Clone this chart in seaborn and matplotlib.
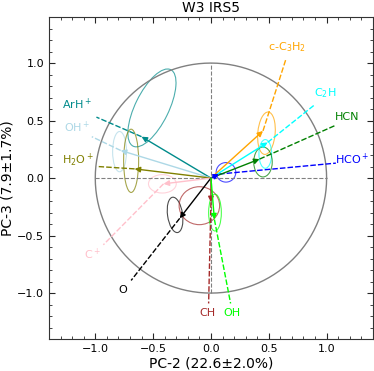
import numpy as np
import pandas as pd
import matplotlib
matplotlib.use("Agg")
import matplotlib.pyplot as plt
import seaborn as sns
from matplotlib.patches import Ellipse
from matplotlib.ticker import MultipleLocator

# loadings (arrow tips) on PC-2 / PC-3
species = ["c-C$_3$H$_2$", "C$_2$H", "HCN", "HCO$^+$", "ArH$^+$", "OH$^+$",
           "H$_2$O$^+$", "C$^+$", "O", "CH", "OH"]
colors = ["orange", "cyan", "green", "blue", "darkcyan", "lightblue",
          "olive", "pink", "black", "brown", "lime"]
pc2 = [0.45, 0.49, 0.42, 0.07, -0.60, -0.78, -0.66, -0.41, -0.27, 0.00, 0.03]
pc3 = [0.41, 0.31, 0.165, 0.035, 0.36, 0.24, 0.08, -0.05, -0.35, -0.21, -0.36]

# bootstrap uncertainty ellipses
ell_x = [0.48, 0.47, 0.45, 0.13, -0.51, -0.79, -0.69, -0.42, -0.31, -0.10, 0.035]
ell_y = [0.39, 0.21, 0.14, 0.05, 0.61, 0.23, 0.15, -0.05, -0.32, -0.24, -0.30]
ell_w = [0.15, 0.11, 0.16, 0.17, 0.29, 0.12, 0.13, 0.24, 0.13, 0.35, 0.11]
ell_h = [0.37, 0.25, 0.26, 0.17, 0.74, 0.35, 0.55, 0.16, 0.31, 0.33, 0.32]
ell_ang = [-5, 0, 0, 0, -26, 0, 0, 0, 8, 0, 0]

# label positions and leader-line ends
lead_x = [0.65, 0.90, 1.08, 1.08, -0.99, -1.03, -0.97, -0.93, -0.69, -0.02, 0.17]
lead_y = [1.04, 0.64, 0.46, 0.13, 0.53, 0.36, 0.10, -0.58, -0.89, -1.09, -1.09]
lab_x = [0.66, 0.99, 1.18, 1.22, -1.16, -1.16, -1.15, -1.02, -0.76, -0.03, 0.18]
lab_y = [1.14, 0.74, 0.53, 0.16, 0.64, 0.44, 0.15, -0.66, -0.97, -1.17, -1.17]

sns.set_style("ticks")
plt.rcParams["font.family"] = ["DejaVu Sans"]

fig = plt.figure(figsize=(3.74, 3.71), dpi=100)
ax = fig.add_axes([0.131, 0.086, 0.866, 0.868])

# unit circle
theta = np.linspace(0, 2 * np.pi, 361)
circ = pd.DataFrame({"x": np.cos(theta), "y": np.sin(theta)})
sns.lineplot(data=circ, x="x", y="y", sort=False, estimator=None,
             color="gray", lw=1.0, ax=ax)
ax.plot([-1, 1], [0, 0], ls="--", color="gray", lw=0.8)
ax.plot([0, 0], [-1, 1], ls="--", color="gray", lw=0.8)

for i, name in enumerate(species):
    c = colors[i]
    ax.add_patch(Ellipse((ell_x[i], ell_y[i]), ell_w[i], ell_h[i], angle=ell_ang[i],
                         fill=False, edgecolor=c, lw=0.8, alpha=0.7))
    ax.annotate("", xy=(pc2[i], pc3[i]), xytext=(0, 0),
                arrowprops=dict(arrowstyle="-|>", color=c, lw=1.0,
                                mutation_scale=8, shrinkA=0, shrinkB=0))
    ax.plot([pc2[i], lead_x[i]], [pc3[i], lead_y[i]], ls="--", color=c, lw=1.0,
            dashes=(4, 1.5))
    ax.text(lab_x[i], lab_y[i], name, color=c, fontsize=8, ha="center", va="center")

ax.set_xlim(-1.4, 1.4)
ax.set_ylim(-1.4, 1.4)
ax.xaxis.set_major_locator(MultipleLocator(0.5))
ax.yaxis.set_major_locator(MultipleLocator(0.5))
ax.xaxis.set_minor_locator(MultipleLocator(0.1))
ax.yaxis.set_minor_locator(MultipleLocator(0.1))
ax.tick_params(which="both", direction="in", top=True, right=True, labelsize=8,
               labelcolor="black")
ax.tick_params(which="major", length=4)
ax.tick_params(which="minor", length=2)
for sp in ax.spines.values():
    sp.set_color("0.2")
ax.set_xlabel("PC-2 (22.6±2.0%)", fontsize=10, labelpad=2, color="black")
ax.set_ylabel("PC-3 (7.9±1.7%)", fontsize=10, labelpad=2, color="black")
ax.set_title("W3 IRS5", fontsize=10, pad=4, color="black")

fig.savefig("out.png", dpi=100)
